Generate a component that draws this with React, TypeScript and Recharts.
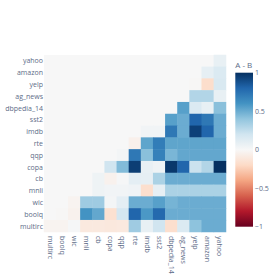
import React from 'react';
import {
  ScatterChart,
  Scatter,
  XAxis,
  YAxis,
  ReferenceArea,
} from 'recharts';

// row labels, top to bottom
const rowNames = ['yahoo', 'amazon', 'yelp', 'ag_news', 'dbpedia_14', 'sst2', 'imdb', 'rte', 'qqp', 'copa', 'cb', 'mnli', 'wic', 'boolq', 'multirc'];
// column labels, left to right
const colNames = ['multirc', 'boolq', 'wic', 'mnli', 'cb', 'copa', 'qqp', 'rte', 'imdb', 'sst2', 'dbpedia_14', 'ag_news', 'yelp', 'amazon', 'yahoo'];

// each row starts at its own column (the diagonal) and runs to the right edge
const yahooRow = [0.08];
const amazonRow = [0.09, 0.15];
const yelpRow = [-0.01, -0.18, 0.16];
const agNewsRow = [0, 0.3, 0.3, 0.08];
const dbpediaRow = [0, 0.55, 0.15, 0.08, 0.42];
const sst2Row = [0, 0.55, 0.5, 0.8, 0.72, 0.5];
const imdbRow = [0.03, 0.03, 0.72, 0.5, 0.94, 0.8, 0.5];
const rteRow = [-0.05, 0.53, 0.7, 0.53, 0.53, 0.53, 0.53, 0.53];
const qqpRow = [0.02, 0.72, 0.42, 0.68, 0.46, 0.52, 0.52, 0.52, 0.52];
const copaRow = [0.2, 0.44, 0.95, 0.08, 0.05, 0.97, 0.8, 0.22, 0.3, 1.0];
const cbRow = [0.05, -0.04, 0.01, 0.1, 0.09, 0.32, 0.5, 0.5, 0.5, 0.5, 0.5];
const mnliRow = [0, 0.05, 0.03, 0.03, 0.04, -0.17, 0.09, 0.32, 0.32, 0.32, 0.32, 0.32];
const wicRow = [-0.03, 0.36, 0.36, 0.02, 0.1, 0.5, 0.5, 0.55, 0.47, 0.5, 0.5, 0.5, 0.5];
const boolqRow = [-0.01, -0.04, 0.6, 0.52, -0.16, 0.18, 0.8, 0.58, 0.78, 0.5, 0.5, 0.5, 0.5, 0.5];
const multircRow = [-0.03, -0.03, 0.01, -0.1, -0.1, -0.11, -0.1, 0.36, 0.08, 0.2, -0.17, 0.15, 0.41, 0.5, 0.5];

const rows = [yahooRow, amazonRow, yelpRow, agNewsRow, dbpediaRow, sst2Row, imdbRow, rteRow, qqpRow, copaRow, cbRow, mnliRow, wicRow, boolqRow, multircRow];

const colorbarTicks = [1, 0.5, 0, -0.5, -1];

// RdBu, from -1 to 1
const rdbu = [
  [103, 0, 31], [178, 24, 43], [214, 96, 77], [244, 165, 130], [253, 219, 199],
  [247, 247, 247], [209, 229, 240], [146, 197, 222], [67, 147, 195], [33, 102, 172], [5, 48, 97],
];

const colorFor = (v: number) => {
  const t = Math.max(0, Math.min(1, (v + 1) / 2)) * (rdbu.length - 1);
  const i = Math.min(Math.floor(t), rdbu.length - 2);
  const f = t - i;
  const a = rdbu[i];
  const b = rdbu[i + 1];
  const c = a.map((x, k) => Math.round(x + (b[k] - x) * f));
  return `rgb(${c[0]},${c[1]},${c[2]})`;
};

const cells = rows.flatMap((vals, r) =>
  vals.map((v, k) => ({ x: colNames.length - vals.length + k, y: r, v })),
);

const W = 278;
const H = 278;
const margin = { top: 55, right: 52, bottom: 0, left: 0 };
const yAxisWidth = 44;
const xAxisHeight = 46;
const plotW = W - margin.left - margin.right - yAxisWidth;
const plotH = H - margin.top - margin.bottom - xAxisHeight;
const cellW = plotW / colNames.length;
const cellH = plotH / rowNames.length;

const font = '"Open Sans", "DejaVu Sans", sans-serif';
const textColor = '#5d6c88';

const HeatCell = (props: any) => {
  const { cx, cy, payload } = props;
  return (
    <rect
      x={cx - cellW / 2 - 0.25}
      y={cy - cellH / 2 - 0.25}
      width={cellW + 0.5}
      height={cellH + 0.5}
      fill={colorFor(payload.v)}
    />
  );
};

const XTick = (props: any) => {
  const { x, y, payload } = props;
  return (
    <g transform={`translate(${x},${y}) rotate(90)`}>
      <text x={0} y={0} dy="0.35em" textAnchor="start" fontSize={7} fontFamily={font} fill={textColor}>
        {colNames[payload.value]}
      </text>
    </g>
  );
};

const Colorbar = () => {
  const top = 72.7;
  const bottom = 226.7;
  const left = 235.3;
  const width = 17.7;
  const yFor = (v: number) => top + ((1 - v) / 2) * (bottom - top);
  return (
    <svg width={W} height={H} style={{ position: 'absolute', left: 0, top: 0, pointerEvents: 'none' }}>
      <defs>
        <linearGradient id="cbar" x1="0" y1="1" x2="0" y2="0">
          {rdbu.map((c, i) => (
            <stop key={i} offset={i / (rdbu.length - 1)} stopColor={`rgb(${c[0]},${c[1]},${c[2]})`} />
          ))}
        </linearGradient>
      </defs>
      <text x={left} y={68} fontSize={8} fontFamily={font} fill={textColor}>A - B</text>
      <rect x={left} y={top} width={width} height={bottom - top} fill="url(#cbar)" />
      {colorbarTicks.map((t) => (
        <text key={t} x={left + width + 2} y={yFor(t)} dy="0.35em" fontSize={7} fontFamily={font} fill={textColor}>
          {t < 0 ? `\u2212${Math.abs(t)}` : `${t}`}
        </text>
      ))}
    </svg>
  );
};

export default function App() {
  const ticks = colNames.map((_n, i) => i);
  return (
    <div style={{ position: 'absolute', left: 0, top: 0, width: W, height: H, background: '#fff' }}>
      <ScatterChart width={W} height={H} margin={margin}>
        <XAxis
          type="number"
          dataKey="x"
          domain={[-0.5, colNames.length - 0.5]}
          ticks={ticks}
          interval={0}
          height={xAxisHeight}
          axisLine={false}
          tickLine={false}
          tickSize={0}
          tickMargin={4}
          tick={<XTick />}
        />
        <YAxis
          type="number"
          dataKey="y"
          domain={[-0.5, rowNames.length - 0.5]}
          reversed
          ticks={ticks}
          interval={0}
          width={yAxisWidth}
          axisLine={false}
          tickLine={false}
          tickSize={0}
          tickMargin={1}
          tickFormatter={(v: number) => rowNames[v]}
          tick={{ fontSize: 7, fontFamily: font, fill: textColor }}
        />
        <ReferenceArea
          x1={-0.5}
          x2={colNames.length - 0.5}
          y1={-0.5}
          y2={rowNames.length - 0.5}
          fill="#f7f7f7"
          fillOpacity={1}
          stroke="none"
        />
        <Scatter data={cells} shape={<HeatCell />} isAnimationActive={false} />
      </ScatterChart>
      <Colorbar />
    </div>
  );
}
